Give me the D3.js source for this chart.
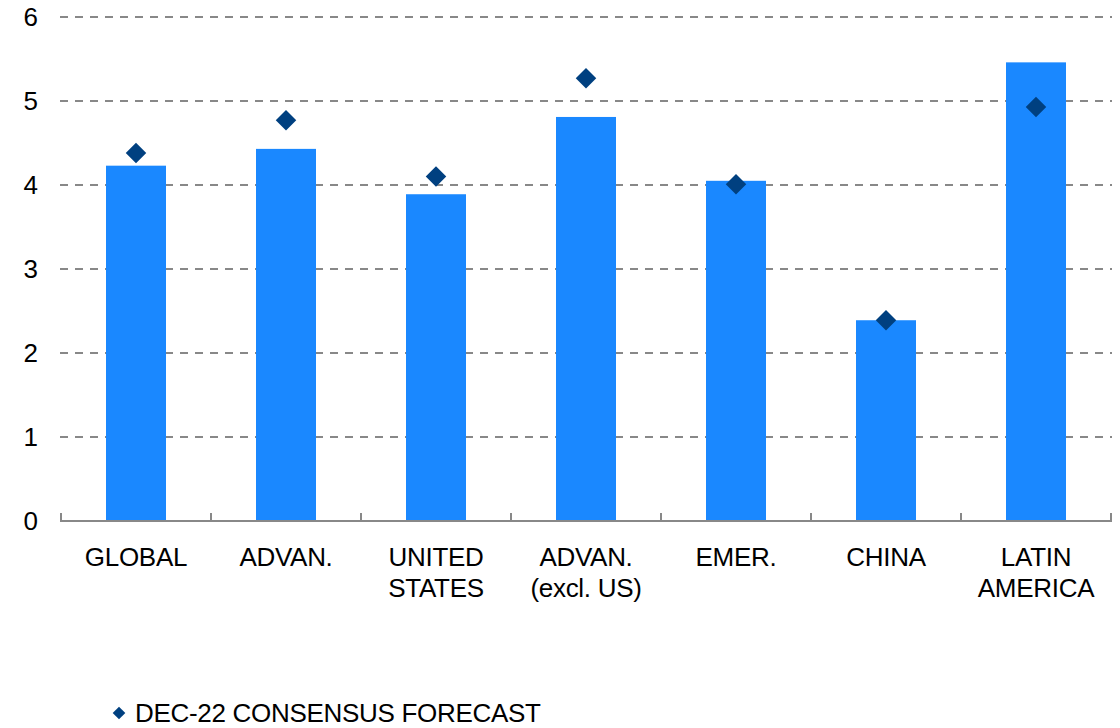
<!DOCTYPE html>
<html>
<head>
<meta charset="utf-8">
<script src="https://cdn.jsdelivr.net/npm/d3@7"></script>
<style>
  body { margin: 0; background: #fff; }
  svg { display: block; font-family: "Liberation Sans", Arial, sans-serif; }
</style>
</head>
<body>
<svg id="chart" width="1120" height="728"></svg>
<script>
// data
const categories = ["GLOBAL", "ADVAN.", "UNITED\nSTATES", "ADVAN.\n(excl. US)", "EMER.", "CHINA", "LATIN\nAMERICA"];
const actual = [4.23, 4.43, 3.89, 4.81, 4.05, 2.39, 5.46];
const consensus = [4.38, 4.77, 4.10, 5.27, 4.01, 2.39, 4.93];
const yTicks = [0, 1, 2, 3, 4, 5, 6];
const legendLabel = "DEC-22 CONSENSUS FORECAST";

const svg = d3.select("#chart");

const x = d3.scaleBand()
  .domain(categories)
  .range([61, 1111])
  .paddingInner(0.6)
  .paddingOuter(0.3);

const y = d3.scaleLinear()
  .domain([0, 6])
  .range([521, 17]);

// dashed grid lines
svg.append("g")
  .selectAll("line")
  .data(yTicks.filter(d => d > 0))
  .join("line")
  .attr("x1", 60)
  .attr("x2", 1112)
  .attr("y1", d => y(d))
  .attr("y2", d => y(d))
  .attr("stroke", "#888")
  .attr("stroke-width", 2)
  .attr("stroke-dasharray", "8,7");

// y labels
svg.append("g")
  .selectAll("text")
  .data(yTicks)
  .join("text")
  .attr("x", 38)
  .attr("y", d => y(d))
  .attr("dy", "0.36em")
  .attr("text-anchor", "end")
  .attr("font-size", 26)
  .attr("fill", "#000")
  .text(d => d);

// bars
svg.append("g")
  .selectAll("rect")
  .data(categories)
  .join("rect")
  .attr("x", d => x(d))
  .attr("width", x.bandwidth())
  .attr("y", (d, i) => y(actual[i]))
  .attr("height", (d, i) => y(0) - y(actual[i]))
  .attr("fill", "#1a88ff");

// bottom axis line with upward ticks at category borders
svg.append("line")
  .attr("x1", 60)
  .attr("x2", 1112)
  .attr("y1", y(0))
  .attr("y2", y(0))
  .attr("stroke", "#888")
  .attr("stroke-width", 2);

const borders = d3.range(categories.length + 1).map(i => x.range()[0] + i * x.step());
svg.append("g")
  .selectAll("line")
  .data(borders)
  .join("line")
  .attr("x1", d => d)
  .attr("x2", d => d)
  .attr("y1", y(0))
  .attr("y2", y(0) - 8)
  .attr("stroke", "#888")
  .attr("stroke-width", 2);

// diamonds
const diamond = d3.symbol().type(d3.symbolSquare).size(210);
svg.append("g")
  .selectAll("path")
  .data(categories)
  .join("path")
  .attr("d", diamond)
  .attr("transform", (d, i) => `translate(${x(d) + x.bandwidth() / 2},${y(consensus[i])}) rotate(45)`)
  .attr("fill", "#004080");

// category labels
const labels = svg.append("g")
  .selectAll("text")
  .data(categories)
  .join("text")
  .attr("x", d => x(d) + x.bandwidth() / 2)
  .attr("y", 566)
  .attr("text-anchor", "middle")
  .attr("font-size", 26)
  .attr("fill", "#000")
  .attr("letter-spacing", -0.3);

labels.selectAll("tspan")
  .data(d => d.split("\n"))
  .join("tspan")
  .attr("x", function() { return this.parentNode.getAttribute("x"); })
  .attr("dy", (d, i) => i === 0 ? 0 : 31)
  .text(d => d);

// legend
const legend = svg.append("g").attr("transform", "translate(119,713)");
legend.append("path")
  .attr("d", d3.symbol().type(d3.symbolSquare).size(80))
  .attr("transform", "rotate(45)")
  .attr("fill", "#004080");
legend.append("text")
  .attr("x", 16)
  .attr("y", 9)
  .attr("font-size", 26)
  .attr("letter-spacing", -0.3)
  .attr("fill", "#000")
  .text(legendLabel);
</script>
</body>
</html>
